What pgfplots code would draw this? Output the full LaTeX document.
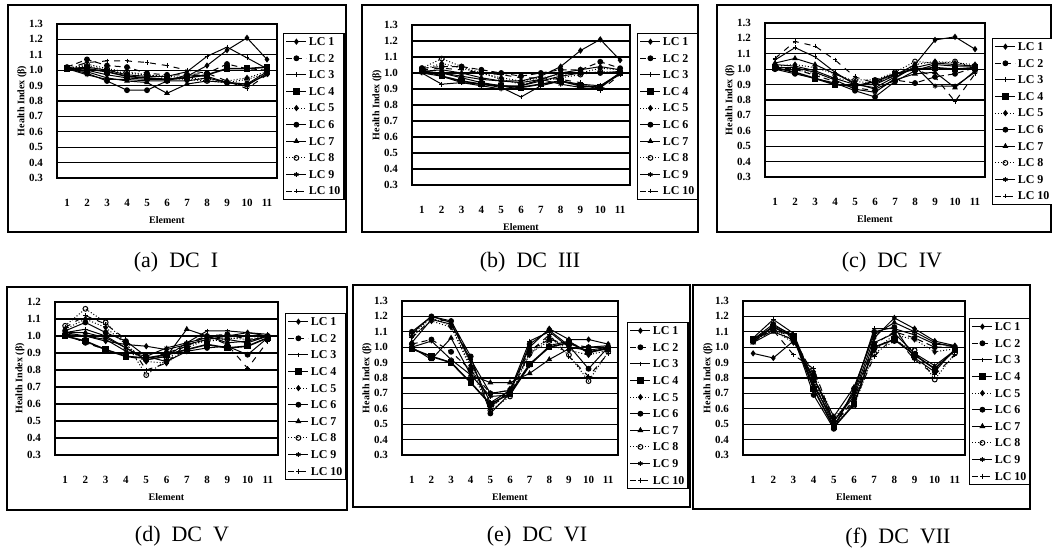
\documentclass[border=0pt]{standalone}
\usepackage{fontspec}
\setmainfont{Liberation Serif}
\usepackage{pgfplots}
\usepackage{pgfplotstable}
\pgfplotsset{compat=1.18}
\usetikzlibrary{calc}

\pgfplotstableread{
x LC1 LC2 LC3 LC4 LC5 LC6 LC7 LC8 LC9 LC10
1 1.01 1.02 1.01 1.01 1.01 1.01 1.01 1.01 1.01 1.01
2 1.00 1.07 1.02 1.01 1.03 0.98 0.99 1.04 0.97 1.05
3 0.97 1.03 1.00 0.99 1.00 0.93 0.95 1.01 0.94 1.06
4 0.95 1.02 0.97 0.96 0.98 0.87 0.93 0.99 0.94 1.06
5 0.94 0.98 0.96 0.95 0.97 0.87 0.92 0.97 0.93 1.05
6 0.94 0.97 0.96 0.94 0.96 0.93 0.85 0.95 0.93 1.03
7 0.96 0.97 0.99 0.95 0.95 0.97 0.91 0.94 0.93 1.00
8 1.03 0.98 1.09 0.97 0.94 0.96 0.93 0.93 0.95 0.98
9 1.13 1.04 1.15 1.01 0.93 0.92 0.92 0.92 0.92 0.93
10 1.21 1.01 1.08 1.01 0.95 0.91 0.90 0.94 0.91 0.88
11 1.07 1.00 1.01 1.02 0.99 0.99 0.98 0.98 0.97 0.97
}\dA
\pgfplotstableread{
x LC1 LC2 LC3 LC4 LC5 LC6 LC7 LC8 LC9 LC10
1 1.01 1.03 1.00 1.02 1.02 1.01 1.01 1.03 1.00 1.02
2 1.00 1.04 0.93 0.98 1.06 1.00 1.02 1.09 0.98 1.03
3 0.98 1.04 0.94 0.95 1.03 0.97 1.00 1.04 0.94 1.02
4 0.96 1.02 0.93 0.93 1.00 0.94 0.97 1.00 0.92 1.00
5 0.95 1.00 0.91 0.92 0.97 0.92 0.95 0.96 0.90 0.99
6 0.95 0.98 0.85 0.91 0.95 0.92 0.94 0.93 0.92 0.97
7 0.98 1.00 0.92 0.93 0.97 0.95 0.96 0.95 0.96 0.97
8 1.04 1.02 0.95 0.95 0.99 0.98 1.00 0.97 0.93 0.96
9 1.14 1.02 0.93 0.92 1.00 1.00 1.02 0.99 0.91 0.94
10 1.21 1.07 0.92 0.91 1.03 1.00 1.04 1.01 0.92 0.89
11 1.08 1.03 0.99 1.00 1.02 1.01 1.02 1.00 1.00 0.99
}\dB
\pgfplotstableread{
x LC1 LC2 LC3 LC4 LC5 LC6 LC7 LC8 LC9 LC10
1 1.03 1.01 1.06 1.01 1.02 1.00 1.04 1.02 1.01 1.07
2 1.02 1.00 1.14 0.98 1.03 0.97 1.07 1.00 1.01 1.18
3 0.99 0.96 1.08 0.94 1.01 0.94 1.03 0.97 0.98 1.15
4 0.94 0.92 0.98 0.90 0.97 0.91 0.97 0.94 0.93 1.06
5 0.90 0.88 0.90 0.89 0.92 0.86 0.91 0.93 0.87 0.95
6 0.90 0.86 0.88 0.92 0.91 0.82 0.87 0.93 0.85 0.91
7 0.96 0.93 0.95 0.97 0.96 0.92 0.93 0.98 0.94 0.96
8 1.03 0.91 1.01 1.00 1.03 0.99 0.97 1.05 1.02 1.00
9 1.19 0.95 1.04 1.01 1.05 1.03 0.98 1.04 0.89 0.95
10 1.21 0.97 1.03 1.00 1.04 1.02 0.88 1.05 0.89 0.79
11 1.13 1.01 1.02 1.01 1.03 1.02 0.99 1.01 0.98 0.97
}\dC
\pgfplotstableread{
x LC1 LC2 LC3 LC4 LC5 LC6 LC7 LC8 LC9 LC10
1 1.02 1.01 1.02 1.00 1.04 1.03 1.02 1.06 1.01 1.05
2 1.00 0.96 1.04 0.97 1.10 1.08 1.02 1.16 1.00 1.12
3 0.97 0.92 1.00 0.92 1.05 1.02 0.99 1.08 0.98 1.07
4 0.95 0.88 0.93 0.88 0.95 0.97 0.93 0.96 0.91 0.98
5 0.94 0.86 0.86 0.87 0.85 0.88 0.86 0.77 0.88 0.80
6 0.92 0.90 0.88 0.89 0.84 0.85 0.88 0.86 0.93 0.84
7 0.95 0.94 0.96 0.92 0.93 0.91 1.04 0.95 0.96 0.96
8 0.98 1.00 1.03 0.95 0.98 0.93 1.00 0.97 0.99 1.00
9 1.00 1.01 1.03 0.93 0.99 0.94 0.96 0.98 0.98 0.95
10 1.02 0.98 1.02 0.94 0.98 0.89 0.97 1.00 0.96 0.81
11 1.00 0.99 1.01 0.99 1.00 0.99 1.00 1.00 1.00 0.97
}\dD
\pgfplotstableread{
x LC1 LC2 LC3 LC4 LC5 LC6 LC7 LC8 LC9 LC10
1 1.03 1.02 1.09 0.99 1.07 1.10 1.00 1.08 1.00 1.06
2 1.18 1.05 1.20 0.94 1.17 1.20 0.92 1.19 1.04 1.18
3 1.15 0.97 1.16 0.90 1.13 1.17 1.06 1.14 0.92 1.17
4 0.92 0.85 0.90 0.77 0.88 0.94 0.82 0.86 0.82 0.92
5 0.70 0.70 0.64 0.63 0.60 0.57 0.77 0.59 0.68 0.62
6 0.72 0.72 0.72 0.70 0.73 0.70 0.77 0.68 0.69 0.69
7 1.00 0.98 1.04 0.89 0.95 1.02 0.83 0.96 0.88 0.97
8 1.12 1.05 1.10 1.00 1.07 1.11 0.92 1.04 1.01 1.08
9 1.05 1.02 1.00 1.03 0.98 1.01 0.99 0.95 1.04 0.94
10 1.05 1.00 0.98 0.97 0.95 0.86 1.00 0.78 0.96 0.81
11 1.02 1.00 1.00 0.99 0.98 1.00 1.01 0.97 1.00 0.96
}\dE
\pgfplotstableread{
x LC1 LC2 LC3 LC4 LC5 LC6 LC7 LC8 LC9 LC10
1 0.96 1.04 1.06 1.05 1.04 1.05 1.03 1.04 1.03 1.04
2 0.93 1.12 1.18 1.13 1.11 1.15 1.10 1.12 1.14 1.11
3 1.04 1.06 1.09 1.07 1.03 1.07 1.05 1.04 1.08 0.95
4 0.80 0.82 0.77 0.73 0.84 0.69 0.80 0.79 0.75 0.86
5 0.52 0.50 0.49 0.48 0.54 0.47 0.55 0.50 0.52 0.51
6 0.70 0.66 0.71 0.63 0.67 0.73 0.74 0.62 0.68 0.64
7 1.06 1.02 1.12 1.00 0.98 1.10 1.08 0.96 1.03 0.94
8 1.19 1.10 1.12 1.05 1.08 1.13 1.16 1.04 1.09 1.07
9 1.12 1.06 1.08 0.95 1.05 0.93 1.10 0.98 0.96 0.92
10 1.04 1.00 1.02 0.86 0.97 0.84 1.03 0.79 0.88 0.82
11 1.01 1.00 1.01 0.98 0.99 0.99 1.00 0.96 0.98 0.95
}\dF

\newcommand\cf{\bfseries\fontsize{5.5}{6.5}\selectfont}
\newcommand\yf{\bfseries\fontsize{5}{6}\selectfont}
\newcommand\lf{\bfseries\fontsize{6}{7}\selectfont}

\pgfplotsset{
  lcbase/.style={black, line width=0.5pt, mark size=1.2pt, mark options={solid, fill=black}},
  lc1/.style={lcbase, solid, mark=diamond*},
  lc2/.style={lcbase, densely dashed, mark=*},
  lc3/.style={lcbase, solid, mark=+},
  lc4/.style={lcbase, solid, line width=0.8pt, mark=square*},
  lc5/.style={lcbase, densely dotted, mark=diamond*},
  lc6/.style={lcbase, solid, mark=*},
  lc7/.style={lcbase, solid, mark=triangle*},
  lc8/.style={lcbase, densely dotted, mark=o, mark options={solid, fill=white}},
  lc9/.style={lcbase, solid, mark=asterisk},
  lc10/.style={lcbase, dashed, mark=+},
  dc/.style={
    scale only axis,
    anchor=south west,
    xmin=0.5, xmax=11.5,
    ymin=0.3, ymax=1.3,
    xtick={1,2,3,4,5,6,7,8,9,10,11},
    ytick={0.3,0.4,0.5,0.6,0.7,0.8,0.9,1.0,1.1,1.2,1.3},
    ymajorgrids,
    grid style={black, line width=0.6pt},
    major tick length=0pt,
    axis line style={black, line width=0.6pt},
    ticklabel style={font=\cf},
    /pgf/number format/assume math mode=true,
    yticklabel style={/pgf/number format/fixed, /pgf/number format/fixed zerofill, /pgf/number format/precision=1, xshift=-3.5pt},
    xticklabel style={yshift=-7pt},
    xlabel={Element},
    xlabel style={font=\yf, at={(axis description cs:0.5,0)}, anchor=center, yshift=-21pt},
    ylabel={Health Index (β)},
    ylabel style={font=\yf, at={($(axis description cs:0,0.5)+(-17.5pt,0)$)}, anchor=center},
    legend cell align=left,
    legend style={draw=black, line width=0.6pt, font=\lf, at={(1,1)}, anchor=north west,
      inner xsep=1pt, inner ysep=1pt, row sep=2.2pt,
      nodes={inner sep=0.8pt, text height=4.2pt, text depth=0.3pt}},
    legend image code/.code={\draw[mark repeat=2, mark phase=2, ##1] plot coordinates {(0pt,0pt) (5pt,0pt) (10pt,0pt)};},
  }
}

\newcommand\plotall[1]{%
  \addplot[lc1] table[x=x,y=LC1]{#1};
  \addplot[lc2] table[x=x,y=LC2]{#1};
  \addplot[lc3] table[x=x,y=LC3]{#1};
  \addplot[lc4] table[x=x,y=LC4]{#1};
  \addplot[lc5] table[x=x,y=LC5]{#1};
  \addplot[lc6] table[x=x,y=LC6]{#1};
  \addplot[lc7] table[x=x,y=LC7]{#1};
  \addplot[lc8] table[x=x,y=LC8]{#1};
  \addplot[lc9] table[x=x,y=LC9]{#1};
  \addplot[lc10] table[x=x,y=LC10]{#1};
  \legend{LC 1,LC 2,LC 3,LC 4,LC 5,LC 6,LC 7,LC 8,LC 9,LC 10}
}

\begin{document}
\begin{tikzpicture}
\useasboundingbox (0pt,0pt) rectangle (526pt,-275pt);
% outer boxes
\draw[line width=0.6pt] (4pt,-2.5pt) rectangle (173pt,-116pt);
\draw[line width=0.6pt] (181pt,-2.5pt) rectangle (349pt,-116pt);
\draw[line width=0.6pt] (358.5pt,-2.5pt) rectangle (525.5pt,-116pt);
\draw[line width=0.6pt] (3.5pt,-143.5pt) rectangle (173.5pt,-255pt);
\draw[line width=0.6pt] (176.5pt,-142.5pt) rectangle (345pt,-253.5pt);
\draw[line width=0.6pt] (346.5pt,-142.5pt) rectangle (515pt,-254.5pt);

\begin{axis}[dc, width=110pt, height=77pt, at={(28.5pt,-89pt)},
  legend style={xshift=3pt, yshift=-4.5pt}]
\plotall{\dA}
\end{axis}
\begin{axis}[dc, width=109pt, height=80pt, at={(206pt,-92.5pt)},
  legend style={xshift=3.5pt, yshift=-4pt}]
\plotall{\dB}
\end{axis}
\begin{axis}[dc, width=110pt, height=77pt, at={(382.5pt,-88.5pt)},
  legend style={xshift=3.5pt, yshift=-7.5pt}]
\plotall{\dC}
\end{axis}
\begin{axis}[dc, width=111.5pt, height=76.5pt, at={(27.5pt,-227.5pt)}, ymax=1.2,
  ytick={0.3,0.4,0.5,0.6,0.7,0.8,0.9,1.0,1.1,1.2},
  legend style={xshift=3.5pt, yshift=-5.5pt}]
\plotall{\dD}
\end{axis}
\begin{axis}[dc, width=108pt, height=77pt, at={(201pt,-227.5pt)},
  legend style={xshift=4.5pt, yshift=-10.5pt}]
\plotall{\dE}
\end{axis}
\begin{axis}[dc, width=111pt, height=77pt, at={(371.5pt,-227.5pt)},
  legend style={xshift=2pt, yshift=-8.5pt}]
\plotall{\dF}
\end{axis}

\node[font=\fontsize{11}{13}\selectfont] at (88pt,-131pt) {(a)\ \ DC\ \ I};
\node[font=\fontsize{11}{13}\selectfont] at (265pt,-131pt) {(b)\ \ DC\ \ III};
\node[font=\fontsize{11}{13}\selectfont] at (446pt,-131pt) {(c)\ \ DC\ \ IV};
\node[font=\fontsize{11}{13}\selectfont] at (91pt,-268pt) {(d)\ \ DC\ \ V};
\node[font=\fontsize{11}{13}\selectfont] at (268.5pt,-268pt) {(e)\ \ DC\ \ VI};
\node[font=\fontsize{11}{13}\selectfont] at (449pt,-269pt) {(f)\ \ DC\ \ VII};
\end{tikzpicture}
\end{document}
